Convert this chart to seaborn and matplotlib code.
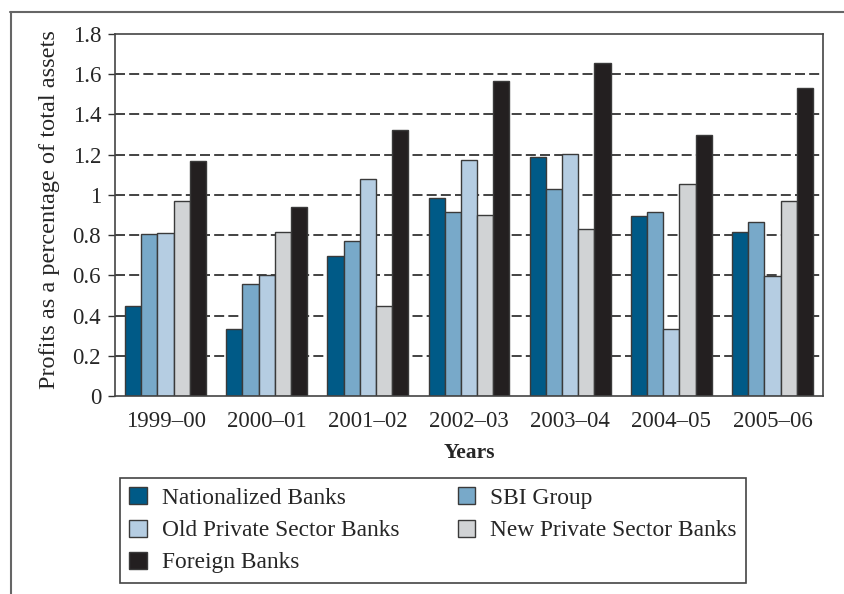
import matplotlib
matplotlib.use("Agg")
import matplotlib.pyplot as plt
import seaborn as sns
import pandas as pd
import numpy as np
from matplotlib.patches import Patch
from matplotlib.lines import Line2D

# values
years = ["1999–00", "2000–01", "2001–02", "2002–03", "2003–04", "2004–05", "2005–06"]
nationalized = [0.45, 0.335, 0.695, 0.985, 1.19, 0.895, 0.815]
sbi_group = [0.805, 0.555, 0.77, 0.915, 1.03, 0.915, 0.865]
old_private = [0.81, 0.60, 1.08, 1.175, 1.205, 0.335, 0.595]
new_private = [0.97, 0.815, 0.45, 0.90, 0.83, 1.055, 0.97]
foreign = [1.17, 0.94, 1.325, 1.565, 1.655, 1.30, 1.53]

banks = ["Nationalized Banks", "SBI Group", "Old Private Sector Banks",
         "New Private Sector Banks", "Foreign Banks"]
colors = ["#005a87", "#78a9c9", "#b5cde2", "#d1d3d5", "#231f20"]

series = [nationalized, sbi_group, old_private, new_private, foreign]
rows = []
for bank, vals in zip(banks, series):
    for yr, v in zip(years, vals):
        rows.append({"Year": yr, "Bank": bank, "Value": v})
df = pd.DataFrame(rows)

sns.set_style("white")
plt.rcParams["font.family"] = ["Liberation Serif", "DejaVu Serif"]

fig = plt.figure(figsize=(8.45, 5.94), dpi=100)
ax = fig.add_axes([115 / 845, 1 - 396 / 594, 708 / 845, 362 / 594])

sns.barplot(data=df, x="Year", y="Value", hue="Bank", hue_order=banks,
            order=years, palette=colors, width=0.8, edgecolor="#3a3a3a",
            linewidth=1.0, saturation=1, ax=ax, legend=False)

ax.set_ylim(0, 1.8)
ax.set_xlim(-0.5, 6.5)
ax.set_yticks(np.arange(0, 1.81, 0.2))
ax.set_yticklabels(["0", "0.2", "0.4", "0.6", "0.8", "1", "1.2", "1.4", "1.6", "1.8"])
ax.set_axisbelow(True)
for y in np.arange(0.2, 1.7, 0.2):
    ax.axhline(y, color="#222222", lw=1.2, ls=(0, (6, 2.5)), zorder=0)

# category ticks between groups, labels at group centres
ax.set_xticks(range(len(years)))
ax.set_xticklabels(years)
ax.set_xticks(np.arange(-0.5, 7, 1), minor=True)
ax.tick_params(axis="x", which="major", length=0, pad=11, labelsize=16.5)
ax.tick_params(axis="x", which="minor", length=5, width=1, color="#333333")
ax.tick_params(axis="y", length=5, width=1, color="#333333", pad=5, labelsize=16.5,
               left=True)

for s in ax.spines.values():
    s.set_color("#444444")
    s.set_linewidth(1.2)

ax.set_xlabel("Years", fontsize=15.5, fontweight="bold", labelpad=8)
ax.set_ylabel("Profits as a percentage of total assets", fontsize=17.5)
ax.yaxis.set_label_coords(-0.078, 0.514)

# legend: first column 3 entries, second 2
order = [0, 2, 4, 1, 3]
handles = [Patch(facecolor=colors[i], edgecolor="#3a3a3a", linewidth=1.0) for i in order]
labels = [banks[i] for i in order]
fig.legend(handles, labels, ncol=2, loc="upper left",
           bbox_to_anchor=(120 / 845, 1 - 478 / 594),
           fontsize=16.8, frameon=True, fancybox=False,
           edgecolor="#444444", framealpha=1, handlelength=0.75, handleheight=0.75,
           handletextpad=0.65, labelspacing=0.45, borderpad=0.4, borderaxespad=0,
           columnspacing=2.5)
fig.legends[0].get_frame().set_linewidth(1.2)

# outer frame lines of the figure panel
fig.add_artist(Line2D([10 / 845, 1], [1 - 12 / 594, 1 - 12 / 594], color="#666666", lw=1.5))
fig.add_artist(Line2D([11 / 845, 11 / 845], [0, 1 - 12 / 594], color="#666666", lw=1.5))

fig.savefig("out.png", dpi=100)
